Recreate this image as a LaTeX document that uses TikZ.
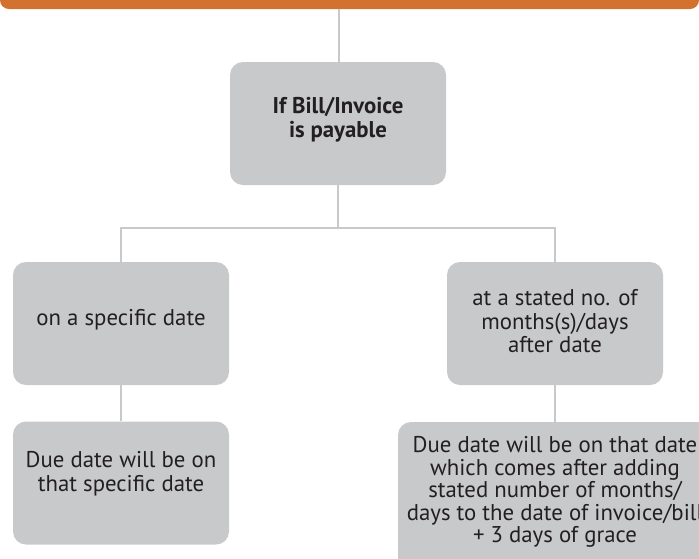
\documentclass[tikz,border=0pt]{standalone}
\usepackage{fontspec}
\setmainfont{PT Sans}
\begin{document}
\begin{tikzpicture}[x=1pt,y=-1pt,
  conn/.style={draw=linegray,line width=2.8pt},
  box/.style={draw=none,fill=boxgray,rounded corners=13pt,minimum width=216pt,minimum height=123pt,inner sep=0pt},
  txt/.style={align=center,text=textdark,inner sep=0pt,font=\fontsize{22.8}{23.5}\selectfont}]
\definecolor{boxgray}{HTML}{C8C9CB}
\definecolor{linegray}{HTML}{C8C9CB}
\definecolor{textdark}{HTML}{231F20}
\definecolor{barorange}{HTML}{D2722E}
\clip (0,0) rectangle (699,558);
% orange bar
\fill[barorange,rounded corners=9pt] (0,-30) rectangle (699,9);
\coordinate (bar) at (339,9);
% boxes
\node[box] (top) at (338,123.5) {};
\node[box] (L1) at (121,323.5) {};
\node[box] (L2) at (121,483) {};
\node[box] (R1) at (555,323.5) {};
\node[box,minimum width=314pt,minimum height=160pt] (R2) at (555,502) {};
% texts
\node[txt,font=\fontsize{22.8}{24}\selectfont\bfseries] (topt) at (338,120) {If Bill/Invoice\\is payable};
\node[txt] (L1t) at (121,320) {on a specific date};
\node[txt] (L2t) at (121,473.5) {Due date will be on\\that specific date};
\node[txt] (R1t) at (555,321.5) {at a stated no. of\\months(s)/days\\after date};
\node[txt,font=\fontsize{22.8}{22.5}\selectfont] (R2t) at (555,492) {Due date will be on that date\\which comes after adding\\stated number of months/\\days to the date of invoice/bill\\+ 3 days of grace};
% connectors
\coordinate (jL) at (121,228);
\coordinate (jR) at (555,228);
\draw[conn] (bar) -- (top.north -| bar);
\draw[conn] (top.south) -- (top.south |- jL);
\draw[conn,line cap=rect] (jL) -- (jR);
\draw[conn] (jL) -- (L1.north);
\draw[conn] (jR) -- (R1.north);
\draw[conn] (L1.south) -- (L2.north);
\draw[conn] (R1.south) -- (R2.north);
\end{tikzpicture}
\end{document}
